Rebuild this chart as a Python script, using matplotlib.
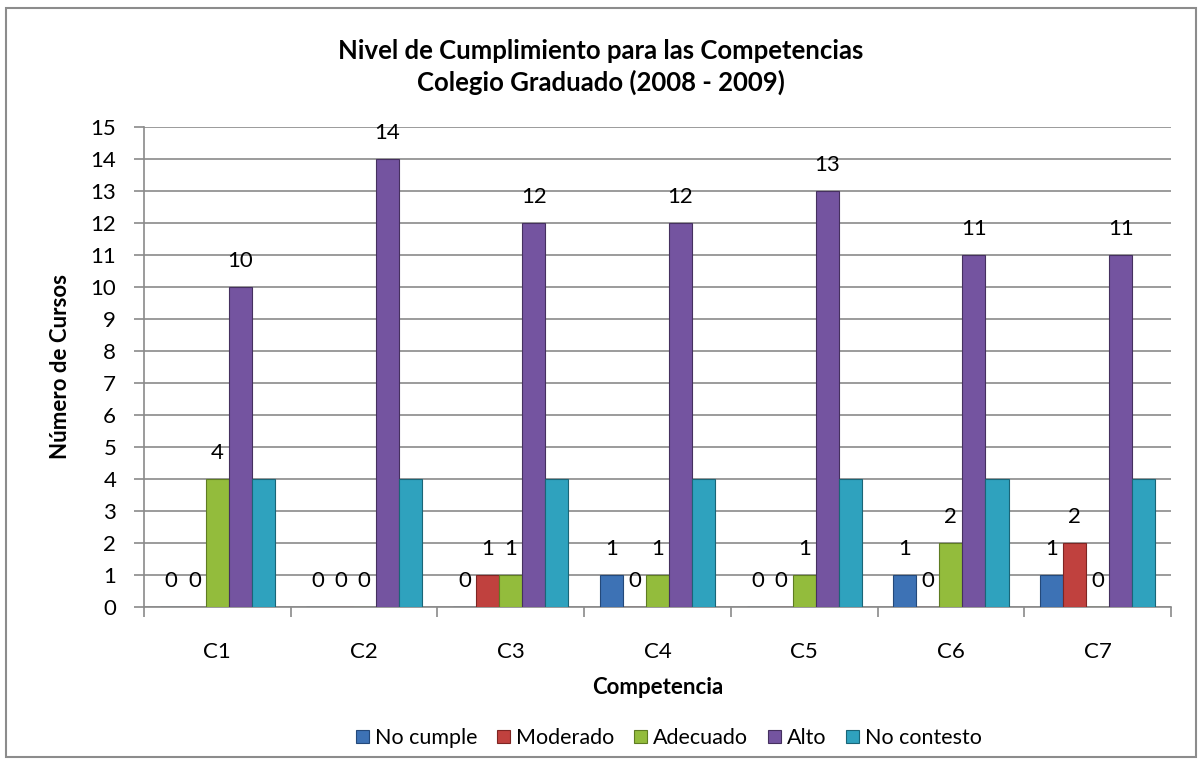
import matplotlib.pyplot as plt
import numpy as np
from matplotlib.patches import Rectangle

plt.rcParams['font.family'] = ['Lato', 'DejaVu Sans']

# data
categories = ['C1', 'C2', 'C3', 'C4', 'C5', 'C6', 'C7']
series = ['No cumple', 'Moderado', 'Adecuado', 'Alto', 'No contesto']
no_cumple = [0, 0, 0, 1, 0, 1, 1]
moderado = [0, 0, 1, 0, 0, 0, 2]
adecuado = [4, 0, 1, 1, 1, 2, 0]
alto = [10, 14, 12, 12, 13, 11, 11]
no_contesto = [4, 4, 4, 4, 4, 4, 4]
values = [no_cumple, moderado, adecuado, alto, no_contesto]
colors = ['#3D72B5', '#C0413E', '#93BC3C', '#7454A0', '#2FA2BE']
edges = ['#24497A', '#7E2523', '#5E7C22', '#45305F', '#1A6577']
show_labels = [True, True, True, True, False]

fig = plt.figure(figsize=(12.02, 7.63), dpi=100)
fig.patches.append(Rectangle((6 / 1202, 6 / 763), 1190 / 1202, 749 / 763,
                             transform=fig.transFigure, fill=False,
                             edgecolor='#8C8C8C', linewidth=1.5))

ax = fig.add_axes([144 / 1202, 156 / 763, 1027 / 1202, 480 / 763])

x = np.arange(len(categories))
w = 0.157
for k, (name, vals) in enumerate(zip(series, values)):
    pos = x + (k - 2) * w
    ax.bar(pos, vals, w, color=colors[k], edgecolor=edges[k], linewidth=0.8,
           label=name, zorder=3)
    if show_labels[k]:
        for px, v in zip(pos, vals):
            ax.annotate(str(v), (px, v), xytext=(0, 26), textcoords='offset pixels',
                        ha='center', va='center', fontsize=16, zorder=4)

ax.set_xlim(-0.5, len(categories) - 0.5)
ax.set_ylim(0, 15)
ax.set_yticks(range(0, 16))
ax.yaxis.grid(True, color='#8A8A8A', linewidth=1.2, zorder=0)
ax.set_axisbelow(True)

ax.set_xticks(x)
ax.set_xticklabels(categories, fontsize=16)
ax.set_xticks(np.arange(-0.5, len(categories)), minor=True)
ax.tick_params(axis='x', which='major', length=0, pad=25)
ax.tick_params(axis='x', which='minor', length=7, color='#8A8A8A', width=1.2)
ax.tick_params(axis='y', length=7, color='#8A8A8A', width=1.2, labelsize=16, pad=13)

for side in ['top', 'right']:
    ax.spines[side].set_visible(False)
for side in ['left', 'bottom']:
    ax.spines[side].set_color('#8A8A8A')
    ax.spines[side].set_linewidth(1.2)

ax.set_xlabel('Competencia', fontsize=16, fontweight='bold', labelpad=11)
ax.set_ylabel('Número de Cursos', fontsize=16, fontweight='bold', labelpad=14)

fig.text(0.5, 0.912, 'Nivel de Cumplimiento para las Competencias\nColegio Graduado (2008 - 2009)',
         ha='center', va='center', fontsize=18.5, fontweight='bold', linespacing=1.3)

fig.legend(loc='center', bbox_to_anchor=(669 / 1202, 1 - 738 / 763), ncol=5,
           frameon=False, fontsize=15.5, handlelength=0.6, handleheight=0.6,
           handletextpad=0.3, columnspacing=0.9)

fig.savefig('out.png', dpi=100)
